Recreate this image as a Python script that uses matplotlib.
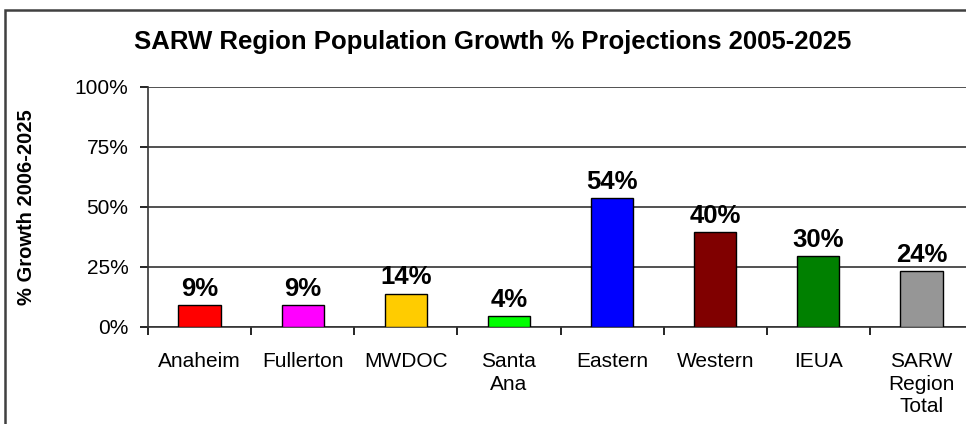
import matplotlib.pyplot as plt
from matplotlib.patches import Rectangle
from matplotlib.ticker import FixedLocator

plt.rcParams['font.family'] = ['Liberation Sans', 'DejaVu Sans']

regions = ["Anaheim", "Fullerton", "MWDOC", "Santa\nAna", "Eastern",
           "Western", "IEUA", "SARW\nRegion\nTotal"]
growth = [9.2, 9.3, 13.9, 4.6, 53.7, 39.6, 29.6, 23.4]
labels = ["9%", "9%", "14%", "4%", "54%", "40%", "30%", "24%"]
colors = ["#FF0000", "#FF00FF", "#FFCC00", "#00FF00", "#0000FF",
          "#800000", "#008000", "#969696"]
yticks = [0, 25, 50, 75, 100]

fig = plt.figure(figsize=(9.66, 4.24), dpi=100)

# outer chart-area border (runs off the right and bottom edges)
fig.patches.append(Rectangle((5/966, -0.1), 1.2, 1 - 10/424 + 0.1,
                             transform=fig.transFigure, fill=False,
                             edgecolor="#404040", linewidth=1.8))

ax = fig.add_axes([148/966, 1 - 327/424, 825/966, 240/424])
x = list(range(len(regions)))
ax.bar(x, growth, width=0.41, color=colors, edgecolor="black",
       linewidth=1.0, zorder=3)

for xi, v, lab in zip(x, growth, labels):
    ax.annotate(lab, (xi, v), xytext=(0, 3), textcoords="offset points",
                ha="center", va="bottom", fontsize=18.5, fontweight="bold",
                zorder=4)

ax.set_xlim(-0.5, len(regions) - 0.5)
ax.set_ylim(0, 100)
ax.set_yticks(yticks)
ax.set_yticklabels([f"{t}%" for t in yticks], fontsize=15)
ax.set_xticks(x)
ax.set_xticklabels(regions, fontsize=15, linespacing=1.25)
ax.xaxis.set_minor_locator(FixedLocator([i - 0.5 for i in range(len(regions) + 1)]))
ax.tick_params(axis="x", which="major", length=0, pad=18)
ax.tick_params(axis="x", which="minor", length=6, width=1.2, direction="out")
ax.tick_params(axis="y", length=6, width=1.2, direction="out", pad=8)

ax.grid(axis="y", color="#333333", linewidth=1.2, zorder=0)
for s in ["top", "right"]:
    ax.spines[s].set_visible(False)
for s in ["left", "bottom"]:
    ax.spines[s].set_linewidth(1.2)
    ax.spines[s].set_color("#333333")

ax.set_ylabel("% Growth 2006-2025", fontsize=14.5, fontweight="bold")
ax.yaxis.set_label_coords(-112/825, 0.5)

fig.text(493/966, 1 - 42/424, "SARW Region Population Growth % Projections 2005-2025",
         ha="center", va="center", fontsize=18.5, fontweight="bold")

fig.savefig("out.png", dpi=100)
